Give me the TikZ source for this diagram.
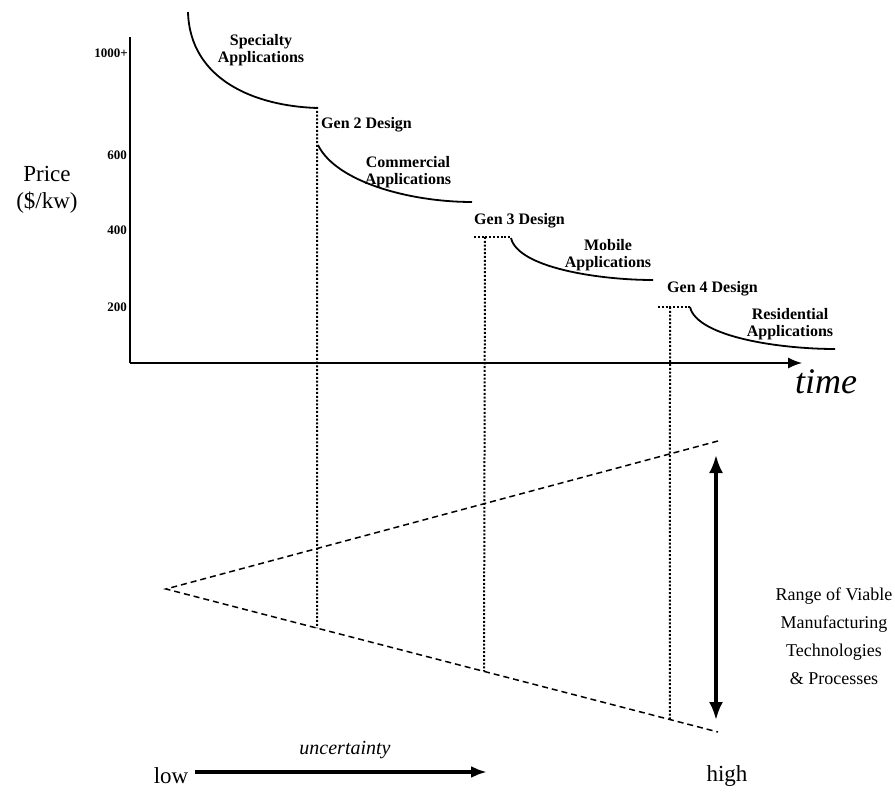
\documentclass[tikz,border=0pt]{standalone}
\usepackage{fontspec}
\setmainfont{Liberation Serif}
\usetikzlibrary{calc,arrows.meta}

\begin{document}
\begin{tikzpicture}[x=1pt,y=-1pt,
    lbl/.style={font=\fontsize{16}{17}\selectfont\bfseries,align=center,inner sep=0pt},
    ticklbl/.style={font=\fontsize{13}{13}\selectfont\bfseries,anchor=east,inner sep=0pt},
    plain/.style={font=\fontsize{23}{27}\selectfont,align=center,inner sep=0pt},
    gendots/.style={line width=2pt,dash pattern=on 2pt off 1.8pt},
    cone/.style={line width=1.5pt,dash pattern=on 6pt off 4pt},
    curve/.style={line width=1.8pt},
    bigarrow/.style={line width=3.2pt}]
  \useasboundingbox (0,0) rectangle (895,802);

  % axes
  \coordinate (orig) at (130,363);
  \coordinate (ytop) at (130,37);
  \coordinate (xend) at (802,363);
  \draw[line width=1.4pt] (ytop) -- (orig);
  \draw[line width=1.4pt,-{Latex[length=14pt,width=11pt]}] (orig) -- (xend);
  \node[font=\fontsize{36}{36}\selectfont\itshape,inner sep=0pt] (time) at (826,382) {time};

  \node[ticklbl] (t1000) at (128,53) {1000+};
  \node[ticklbl] (t600) at (127,155) {600};
  \node[ticklbl] (t400) at (127,230) {400};
  \node[ticklbl] (t200) at (127,307) {200};
  \node[plain] (price) at (47,190) {Price\\(\$/kw)};

  % price curves
  \draw[curve] (188,12) .. controls (190,80) and (255,106) .. (317,108);
  \draw[curve] (318,145) .. controls (336,182) and (410,202) .. (472,202);
  \draw[curve] (511,238) .. controls (518,268) and (600,280) .. (653,280);
  \draw[curve] (690,307) .. controls (697,337) and (780,349) .. (835,349);

  \node[lbl] (spec) at (261,50) {Specialty\\Applications};
  \node[lbl] (comm) at (408,172) {Commercial\\Applications};
  \node[lbl] (mob) at (608,255) {Mobile\\Applications};
  \node[lbl] (resi) at (790,324) {Residential\\Applications};
  \node[lbl,anchor=west] (gen2) at (321,125) {Gen 2 Design};
  \node[lbl,anchor=west] (gen3) at (474,221) {Gen 3 Design};
  \node[lbl,anchor=west] (gen4) at (667,289) {Gen 4 Design};

  % cone of viable technologies
  \coordinate (apex) at (166,589);
  \coordinate (hiup) at (718,441);
  \coordinate (hilo) at (718,732);
  \draw[cone] (hiup) -- (apex) -- (hilo);

  % design generations
  \draw[gendots] (317,107) -- ($(apex)!0.2736!(hilo)$);
  \draw[gendots] (474,237) -- (511,237);
  \draw[gendots] (485,237) -- ($(apex)!0.5761!(hilo)$);
  \draw[gendots] (658,307) -- (690,307);
  \draw[gendots] (670,307) -- ($(apex)!0.9130!(hilo)$);

  % range arrow
  \coordinate (rtop) at (716,455);
  \coordinate (rbot) at (716,720);
  \draw[bigarrow,{Latex[length=18pt,width=14pt]}-{Latex[length=18pt,width=14pt]}] (rtop) -- (rbot);
  \node[font=\fontsize{18}{28}\selectfont,align=center,inner sep=0pt] (range) at (834,636)
    {Range of Viable\\Manufacturing\\Technologies\\\& Processes};

  % uncertainty
  \node[plain] (low) at (171,776) {low};
  \node[plain] (high) at (727,776) {high};
  \node[font=\fontsize{20}{20}\selectfont\itshape,inner sep=0pt] (unc) at (345,750) {uncertainty};
  \draw[bigarrow,-{Latex[length=16pt,width=12pt]}] (195,772) -- (487,772);
\end{tikzpicture}
\end{document}
